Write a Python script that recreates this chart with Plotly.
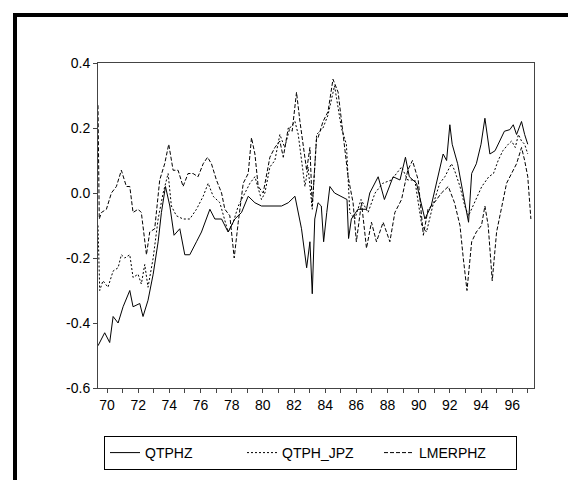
import plotly.graph_objects as go

q_t = [69.42,69.85,70.17,70.39,70.71,71.03,71.46,71.67,72.1,72.31,72.63,72.96,73.28,73.49,73.75,74.03,74.3,74.67,74.99,75.31,75.74,76.06,76.6,76.92,77.35,77.77,78.2,78.63,79.06,79.49,79.91,80.34,80.77,81.2,81.63,82.06,82.48,82.81,83.02,83.17,83.33,83.54,83.75,83.9,84.1,84.3,84.6,85.0,85.4,85.5,85.68,86.1,86.65,86.86,87.4,87.8,88.36,88.8,89.15,89.4,89.86,90.2,90.4,90.8,91.25,91.57,91.79,92.0,92.15,92.5,92.96,93.2,93.4,93.7,94.0,94.25,94.57,94.9,95.2,95.5,95.85,96.07,96.28,96.6,96.8,97.0]
q_v = [-0.47,-0.43,-0.46,-0.38,-0.40,-0.35,-0.30,-0.35,-0.34,-0.38,-0.33,-0.25,-0.15,-0.06,0.02,-0.04,-0.13,-0.11,-0.19,-0.19,-0.15,-0.12,-0.05,-0.08,-0.08,-0.12,-0.08,-0.06,-0.01,-0.03,-0.04,-0.04,-0.04,-0.04,-0.03,-0.01,-0.11,-0.23,-0.15,-0.31,-0.08,-0.03,-0.04,-0.15,-0.06,0.02,0.0,-0.01,-0.02,-0.14,-0.08,-0.05,-0.05,0.0,0.05,-0.02,0.05,0.04,0.11,0.05,0.03,-0.04,-0.08,-0.04,0.05,0.12,0.10,0.21,0.15,0.09,-0.03,-0.09,0.06,0.09,0.15,0.23,0.12,0.13,0.16,0.19,0.195,0.21,0.18,0.22,0.18,0.15]

j_t = [69.42,69.53,69.74,70.06,70.39,70.71,70.92,71.14,71.46,71.67,71.99,72.2,72.42,72.63,72.96,73.28,73.6,73.92,74.13,74.45,74.88,75.31,75.74,76.17,76.49,76.81,77.24,77.77,78.1,78.42,78.85,79.17,79.49,79.91,80.13,80.45,80.77,81.09,81.4,81.73,82.06,82.27,82.7,82.9,83.17,83.45,83.86,84.18,84.6,85.04,85.36,85.58,85.9,86.3,86.75,87.2,87.7,88.25,88.9,89.3,89.75,90.2,90.5,90.9,91.35,91.68,92.1,92.3,92.65,92.96,93.2,93.4,93.7,94.05,94.5,94.8,95.1,95.4,95.75,95.96,96.2,96.4,96.6,96.8,97.0]
j_v = [-0.1,-0.30,-0.27,-0.29,-0.24,-0.23,-0.19,-0.20,-0.19,-0.26,-0.25,-0.28,-0.22,-0.29,-0.20,-0.08,0.0,0.06,-0.04,-0.07,-0.08,-0.08,-0.05,-0.01,0.03,-0.01,-0.03,-0.12,-0.09,-0.04,0.0,0.03,0.05,-0.02,0.0,0.08,0.10,0.18,0.14,0.20,0.22,0.18,0.02,0.08,-0.05,0.18,0.20,0.24,0.33,0.20,0.15,-0.06,-0.08,-0.02,-0.06,0.0,0.03,0.04,0.08,0.04,0.04,-0.10,-0.12,-0.04,0.03,0.05,0.09,0.07,0.02,-0.04,-0.07,-0.05,-0.02,0.02,0.05,0.06,0.10,0.13,0.15,0.16,0.14,0.18,0.16,0.15,0.12]

m_t = [69.42,69.5,69.64,69.96,70.28,70.6,70.92,71.24,71.46,71.67,71.99,72.2,72.53,72.74,73.06,73.38,73.7,73.96,74.24,74.56,74.88,75.2,75.52,75.84,76.17,76.45,76.7,77.02,77.35,77.56,77.88,78.16,78.42,78.74,79.06,79.27,79.49,79.7,80.02,80.45,80.77,81.09,81.31,81.63,81.88,82.16,82.38,82.6,82.81,83.02,83.17,83.45,83.54,83.86,84.18,84.5,84.83,85.15,85.47,85.79,86.0,86.33,86.65,86.97,87.29,87.72,88.15,88.47,88.9,89.3,89.6,89.97,90.3,90.6,91.0,91.46,91.9,92.3,92.65,92.86,93.1,93.4,93.7,94.03,94.25,94.46,94.72,95.0,95.32,95.64,95.96,96.28,96.6,96.8,97.0,97.2]
m_v = [0.27,-0.08,-0.06,-0.05,0.0,0.02,0.07,0.02,0.02,-0.06,-0.05,-0.06,-0.19,-0.12,-0.11,0.04,0.09,0.15,0.07,0.07,0.02,0.06,0.06,0.05,0.09,0.11,0.09,0.04,0.0,-0.05,-0.07,-0.20,-0.09,0.03,0.06,0.17,0.12,0.02,0.0,0.11,0.14,0.16,0.11,0.20,0.19,0.31,0.22,0.14,0.07,0.14,-0.04,0.17,0.17,0.22,0.25,0.35,0.31,0.18,0.05,-0.03,-0.15,-0.03,-0.17,-0.09,-0.15,-0.09,-0.15,-0.06,-0.02,0.07,0.10,0.04,-0.13,-0.05,-0.03,0.0,0.02,-0.03,-0.10,-0.20,-0.30,-0.15,-0.12,-0.10,-0.04,-0.10,-0.27,-0.12,-0.04,0.03,0.06,0.09,0.14,0.10,0.05,-0.08]

tick_years = list(range(70, 97, 2))
tick_labels = [str(y) for y in tick_years]

fig = go.Figure()
fig.add_trace(go.Scatter(x=q_t, y=q_v, mode="lines", name="QTPHZ",
                         line=dict(color="black", width=1)))
fig.add_trace(go.Scatter(x=j_t, y=j_v, mode="lines", name="QTPH_JPZ",
                         line=dict(color="black", width=1, dash="2px,2px")))
fig.add_trace(go.Scatter(x=m_t, y=m_v, mode="lines", name="LMERPHZ",
                         line=dict(color="black", width=1, dash="4px,2px")))

L, R, T, B = 90, 50, 55, 100
W, H = 576, 480
pw, ph = W - L - R, H - T - B
fig.update_layout(
    width=W, height=H, margin=dict(l=L, r=R, t=T, b=B),
    paper_bgcolor="white", plot_bgcolor="white",
    font=dict(family="Liberation Sans, Arial", size=14, color="black"),
    showlegend=True,
    legend=dict(orientation="h", x=(96 - L) / pw, xanchor="left",
                y=(380 - 428) / ph, yanchor="top",
                bordercolor="black", borderwidth=1, font=dict(size=14),
                entrywidth=92, entrywidthmode="pixels", tracegroupgap=0),
    xaxis=dict(range=[69.42, 97.4], tickmode="array", tickvals=tick_years,
               ticktext=tick_labels, ticks="outside", ticklen=4,
               showgrid=False, zeroline=False, showline=True, linecolor="#444",
               linewidth=1, mirror=True,
               minor=dict(dtick=1, tick0=70, ticks="outside", ticklen=4, tickcolor="#444")),
    yaxis=dict(range=[-0.6, 0.4], tickvals=[-0.6, -0.4, -0.2, 0.0, 0.2, 0.4],
               ticktext=["-0.6", "-0.4", "-0.2", "0.0", "0.2", "0.4"],
               ticks="outside", ticklen=4, showgrid=False, zeroline=False,
               showline=True, linecolor="#444", linewidth=1, mirror=True),
)
fig.add_shape(type="rect", xref="paper", yref="paper",
              x0=(7 - L) / pw, x1=(W + 20 - L) / pw,
              y0=-(B + 20) / ph, y1=1 + (T - 7) / ph,
              line=dict(color="black", width=4))
fig.write_html("out.html")
